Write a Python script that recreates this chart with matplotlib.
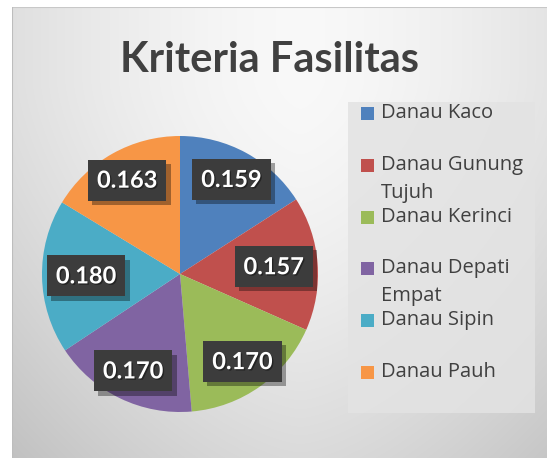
import numpy as np
import matplotlib
matplotlib.use("Agg")
import matplotlib.pyplot as plt
import matplotlib.patheffects as pe
from matplotlib.patches import Rectangle

title = "Kriteria Fasilitas"
categories = ["Danau Kaco", "Danau Gunung\nTujuh", "Danau Kerinci",
              "Danau Depati\nEmpat", "Danau Sipin", "Danau Pauh"]
values = [0.159, 0.157, 0.170, 0.170, 0.180, 0.163]
colors = ["#4F81BD", "#C0504D", "#9BBB59", "#8064A2", "#4BACC6", "#F79646"]

W, H, DPI = 547, 458, 100
fig = plt.figure(figsize=(W / DPI, H / DPI), dpi=DPI)
fig.patch.set_facecolor("white")

# background gradient panel
x0, y0top = 12, 7
bg = fig.add_axes([x0 / W, 0, (W - x0) / W, (H - y0top) / H])
bg.set_axis_off()
yy, xx = np.mgrid[0:H - y0top, 0:W - x0]
px = xx + x0
py = yy + y0top
dx = np.abs(px - 300) / 290.0
dy = np.clip((py - 80) / 380.0, 0, None)
c = 0.975 - 0.10 * dx ** 1.5 - 0.12 * dy ** 1.5
img = np.dstack([c, c, c])
bg.imshow(img, aspect="auto", extent=[0, 1, 0, 1], origin="upper")
bg.set_xlim(0, 1)
bg.set_ylim(0, 1)
bg.plot([0, 1], [1, 1], color="#c8c8c8", lw=1.5, transform=bg.transAxes)
bg.plot([0, 0], [0, 1], color="#bdbdbd", lw=1.5, transform=bg.transAxes)

# title
fig.text(269 / W, 1 - 60 / H, title, ha="center", va="center",
         fontsize=30, fontweight="bold", color="#404040", family="Lato")

# legend box
lx0, lx1, ly0, ly1 = 348, 535, 102, 413
fig.patches.append(Rectangle((lx0 / W, 1 - ly1 / H), (lx1 - lx0) / W, (ly1 - ly0) / H,
                             transform=fig.transFigure, facecolor="#e3e3e3",
                             edgecolor="none", alpha=0.85, zorder=1))
entry_y = [113, 165, 217, 268, 320, 372]
for lab, col, ey in zip(categories, colors, entry_y):
    fig.patches.append(Rectangle((361 / W, 1 - (ey + 6.5) / H), 13 / W, 13 / H,
                                 transform=fig.transFigure, facecolor=col,
                                 edgecolor="none", zorder=3))
    lines = lab.split("\n")
    for i, ln in enumerate(lines):
        fig.text(381 / W, 1 - (ey + i * 28) / H, ln, ha="left", va="center",
                 fontsize=14.5, color="#404040", family="Open Sans", zorder=3)

# pie
cx, cy, R = 180, 274, 138
ax = fig.add_axes([(cx - R) / W, (H - cy - R) / H, 2 * R / W, 2 * R / H])
ax.set_axis_off()
wedges, _ = ax.pie(values, colors=colors, startangle=90, counterclock=False,
                   radius=1.0, wedgeprops=dict(linewidth=0))
ax.set_xlim(-1, 1)
ax.set_ylim(-1, 1)

for w, v in zip(wedges, values):
    mid = np.deg2rad((w.theta1 + w.theta2) / 2)
    r = 0.78
    if abs(r * np.cos(mid)) > 0.68:
        r = 0.68 / abs(np.cos(mid))
    t = ax.text(r * np.cos(mid), r * np.sin(mid), f"{v:.3f}", ha="center", va="center",
                fontsize=17, fontweight="bold", color="white", family="Lato",
                bbox=dict(boxstyle="square,pad=0.38", facecolor="#3c3c3c", edgecolor="none"),
                zorder=5)
    t.set_path_effects([pe.withSimplePatchShadow(offset=(1, -1), shadow_rgbFace="black", alpha=0.4)])
    t.get_bbox_patch().set_path_effects([pe.SimplePatchShadow(offset=(3, -3), shadow_rgbFace="black", alpha=0.35), pe.Normal()])

fig.savefig("out.png", dpi=DPI)
